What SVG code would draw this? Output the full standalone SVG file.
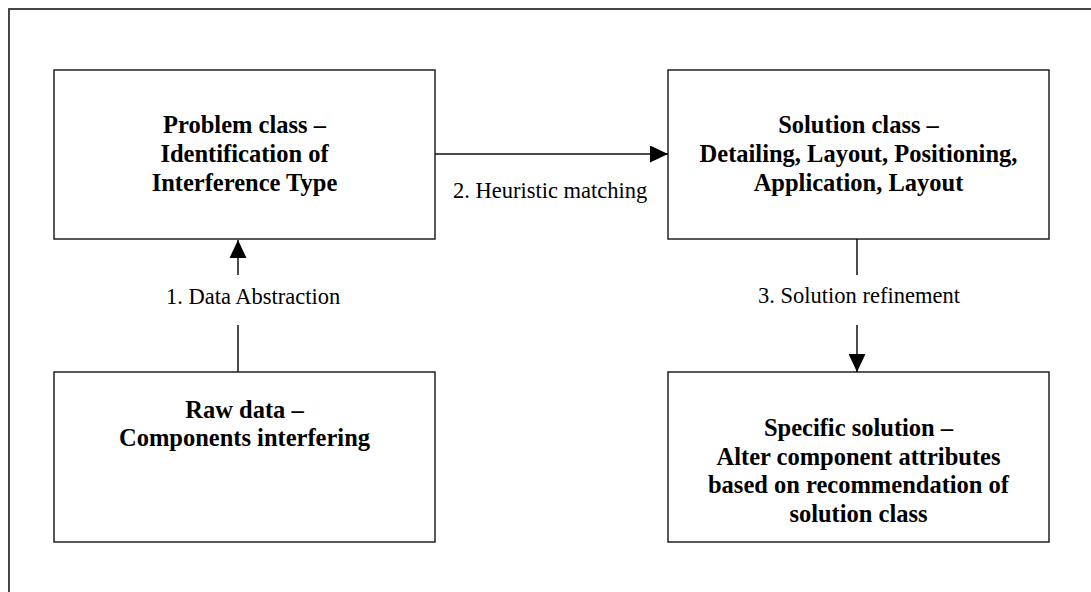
<svg xmlns="http://www.w3.org/2000/svg" width="1091" height="592" viewBox="0 0 1091 592">
<defs>
<style>
.frame{fill:none;stroke:#333;stroke-width:1.8}
.box{fill:#fff;stroke:#222;stroke-width:1.5}
.t{font-family:"Liberation Serif","Times New Roman",serif;font-weight:bold;font-size:24.5px;fill:#000;text-anchor:middle}
.l{font-family:"Liberation Serif","Times New Roman",serif;font-size:22.5px;fill:#000}
.c{fill:none;stroke:#111;stroke-width:1.5}
</style>
<marker id="ah" markerWidth="18" markerHeight="17" refX="18" refY="8.5" orient="auto" markerUnits="userSpaceOnUse">
<path d="M0,0 L18,8.5 L0,17 Z" fill="#000"/>
</marker>
</defs>
<rect width="1091" height="592" fill="#fff"/>
<rect class="frame" x="9" y="9" width="1100" height="600"/>
<g id="problem">
<rect class="box" x="54" y="70" width="381" height="169"/>
<text class="t" x="244.5" y="133">Problem class –</text>
<text class="t" x="244.5" y="162">Identification of</text>
<text class="t" x="244.5" y="191">Interference Type</text>
</g>
<g id="solution">
<rect class="box" x="668" y="70" width="381" height="169"/>
<text class="t" x="858.5" y="133">Solution class –</text>
<text class="t" x="858.5" y="162">Detailing, Layout, Positioning,</text>
<text class="t" x="858.5" y="191">Application, Layout</text>
</g>
<g id="raw">
<rect class="box" x="54" y="372" width="381" height="170"/>
<text class="t" x="244.5" y="418">Raw data –</text>
<text class="t" x="244.5" y="446">Components interfering</text>
</g>
<g id="specific">
<rect class="box" x="668" y="372" width="381" height="170"/>
<text class="t" x="858.5" y="436">Specific solution –</text>
<text class="t" x="858.5" y="465">Alter component attributes</text>
<text class="t" x="858.5" y="493">based on recommendation of</text>
<text class="t" x="858.5" y="522">solution class</text>
</g>
<g id="connectors">
<line class="c" x1="238" y1="372" x2="238" y2="325"/>
<line class="c" x1="238" y1="275" x2="238" y2="240" marker-end="url(#ah)"/>
<text class="l" x="166" y="304">1. Data Abstraction</text>
<line class="c" x1="435" y1="154" x2="668" y2="154" marker-end="url(#ah)"/>
<text class="l" x="453" y="198">2. Heuristic matching</text>
<line class="c" x1="857" y1="239" x2="857" y2="275"/>
<line class="c" x1="857" y1="325" x2="857" y2="372" marker-end="url(#ah)"/>
<text class="l" x="859" y="303" text-anchor="middle">3. Solution refinement</text>
</g>
</svg>
